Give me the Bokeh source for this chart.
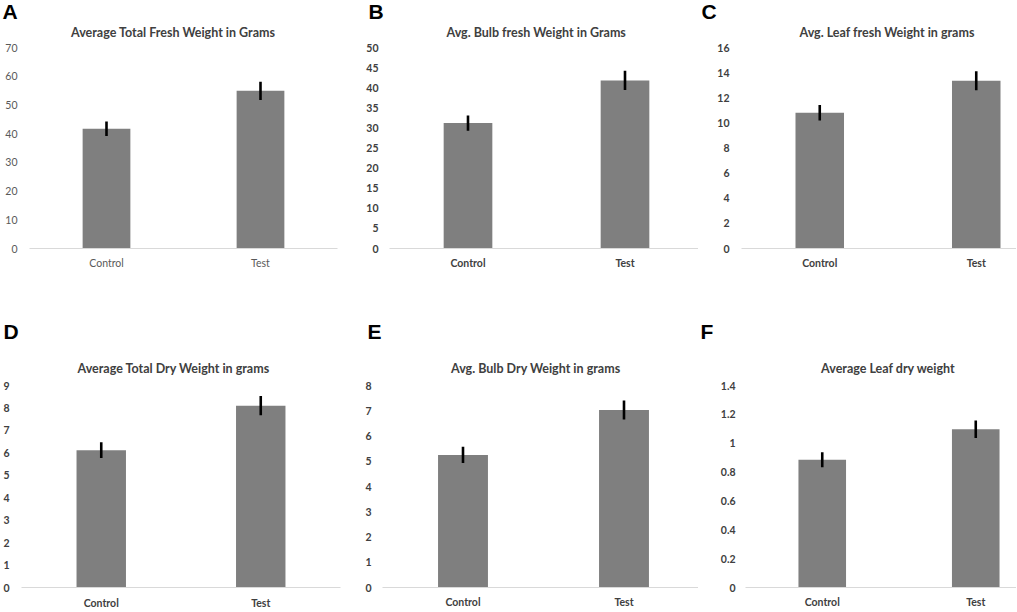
from bokeh.plotting import figure
from bokeh.layouts import row, column
from bokeh.models import Range1d, FixedTicker, NumeralTickFormatter, ColumnDataSource, Title
from bokeh.embed import file_html
from bokeh.resources import INLINE

# ---------------- data ----------------
categories = ["Control", "Test"]

fresh_total = [41.7, 54.9]
fresh_total_err = [2.5, 3.2]
fresh_bulb = [31.2, 41.8]
fresh_bulb_err = [1.9, 2.4]
fresh_leaf = [10.8, 13.35]
fresh_leaf_err = [0.62, 0.75]
dry_total = [6.12, 8.1]
dry_total_err = [0.35, 0.43]
dry_bulb = [5.25, 7.03]
dry_bulb_err = [0.32, 0.38]
dry_leaf = [0.886, 1.097]
dry_leaf_err = [0.052, 0.06]

letters = ["A", "B", "C", "D", "E", "F"]
titles = [
    "Average Total Fresh Weight in Grams",
    "Avg. Bulb fresh Weight in Grams",
    "Avg. Leaf fresh Weight in grams",
    "Average Total Dry Weight in grams",
    "Avg. Bulb Dry Weight in grams",
    "Average Leaf dry weight",
]
y_max = [70, 50, 16, 9, 8, 1.4]
y_step = [10, 5, 2, 1, 1, 0.2]

BAR = "#7f7f7f"
FONT = "Lato"


def make_panel(letter, title, vals, errs, ymax, ystep, bold, g):
    fw, fh = g["w"], g["h"]
    frame_w = fw - g["left"] - g["right"]
    xend = frame_w / g["cat_px"]
    p = figure(width=fw, height=fh, output_backend="svg", toolbar_location=None,
               title=None, x_range=Range1d(0, xend), y_range=Range1d(0, ymax),
               min_border_left=g["left"], min_border_right=g["right"],
               min_border_top=g["top"], min_border_bottom=g["bottom"],
               tools="")
    p.outline_line_color = None
    p.background_fill_color = "white"
    p.border_fill_color = "white"
    p.xgrid.visible = False
    p.ygrid.visible = False

    xs = [i + 0.5 for i in range(len(categories))]
    src = ColumnDataSource(dict(
        x=xs, top=vals,
        lo=[v - e for v, e in zip(vals, errs)],
        hi=[v + e for v, e in zip(vals, errs)],
    ))
    p.vbar(x="x", top="top", bottom=0, width=0.31, source=src,
           fill_color=BAR, line_color=None)
    p.segment(x0="x", y0="lo", x1="x", y1="hi", source=src,
              line_color="black", line_width=2.6)

    n = int(round(ymax / ystep))
    yt = [round(i * ystep, 6) for i in range(n + 1)]
    p.yaxis.ticker = FixedTicker(ticks=yt)
    p.yaxis.formatter = NumeralTickFormatter(format="0.[0]")
    p.yaxis.axis_line_color = None
    p.yaxis.major_tick_line_color = None
    p.yaxis.minor_tick_line_color = None
    p.yaxis.major_tick_in = 0
    p.yaxis.major_tick_out = 0
    p.yaxis.major_label_standoff = g["ylab"]

    p.xaxis.ticker = FixedTicker(ticks=xs)
    p.xaxis.major_label_overrides = {x: c for x, c in zip(xs, categories)}
    p.xaxis.axis_line_color = "#d9d9d9"
    p.xaxis.axis_line_width = 1
    p.xaxis.major_tick_line_color = None
    p.xaxis.minor_tick_line_color = None
    p.xaxis.major_tick_in = 0
    p.xaxis.major_tick_out = 0
    p.xaxis.major_label_standoff = g["xlab"]

    for ax in (p.xaxis, p.yaxis):
        ax.major_label_text_font = FONT
        ax.major_label_text_font_size = "10.5px"
        ax.major_label_text_font_style = "bold" if bold else "normal"
        ax.major_label_text_color = "#404040" if bold else "#595959"

    p.add_layout(Title(text=title, align="left", offset=g["toff"], standoff=g["tst"],
                       text_font=FONT, text_font_style="bold", text_font_size="12.5px",
                       text_color="#404040"), "above")
    p.add_layout(Title(text=letter, align="left", offset=g["loff"], standoff=g["lst"],
                       text_font="Liberation Sans", text_font_style="bold",
                       text_font_size="21px", text_color="black"), "above")
    return p


H1 = 312
H2 = 299
geoms = [
    dict(w=350, h=H1, left=29, right=13, top=47, bottom=64, cat_px=154, ylab=12, xlab=8,
         toff=41.5, tst=16, loff=-27, lst=-16),
    dict(w=348, h=H1, left=39, right=0, top=46, bottom=62, cat_px=157, ylab=11, xlab=8,
         toff=57, tst=16, loff=-21, lst=-16),
    dict(w=318, h=H1, left=43, right=0, top=46, bottom=63, cat_px=156.5, ylab=12, xlab=8,
         toff=58, tst=16, loff=-40, lst=-16),
    dict(w=350, h=H2, left=20, right=10, top=72, bottom=23, cat_px=160, ylab=12, xlab=9,
         toff=56, tst=19.5, loff=-18, lst=10.5),
    dict(w=348, h=H2, left=32, right=0, top=71, bottom=22, cat_px=161, ylab=11, xlab=8,
         toff=68.5, tst=19.5, loff=-15, lst=10.5),
    dict(w=318, h=H2, left=47, right=0, top=73, bottom=24, cat_px=153.5, ylab=10, xlab=8,
         toff=75.6, tst=19.5, loff=-45, lst=10.5),
]

series = [fresh_total, fresh_bulb, fresh_leaf, dry_total, dry_bulb, dry_leaf]
errors = [fresh_total_err, fresh_bulb_err, fresh_leaf_err, dry_total_err, dry_bulb_err, dry_leaf_err]
bolds = [False, True, True, True, True, True]

panels = [make_panel(letters[i], titles[i], series[i], errors[i], y_max[i], y_step[i], bolds[i], geoms[i])
          for i in range(6)]

layout = column(row(*panels[:3]), row(*panels[3:]))

open("out.html", "w").write(file_html(layout, INLINE))
